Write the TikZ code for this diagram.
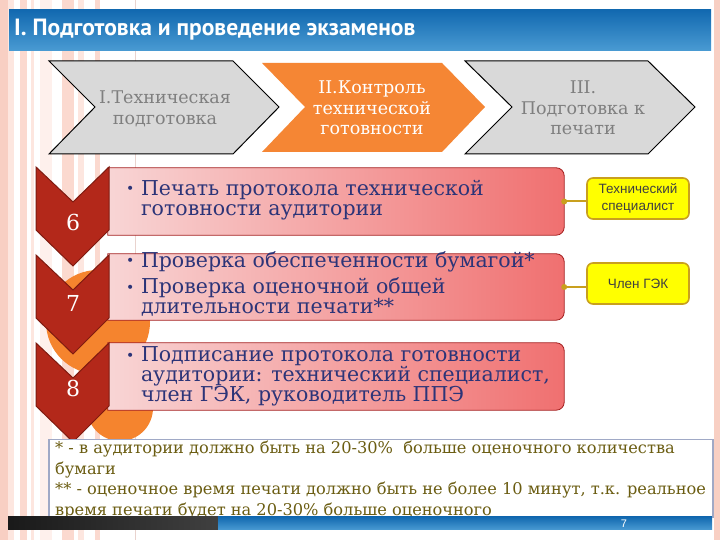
\documentclass[tikz,border=0pt]{standalone}
\usepackage{fontspec}
\setmainfont{DejaVu Serif}
\newfontfamily\titlefont{PT Sans}
\newfontfamily\yelfont{Liberation Sans}
\usetikzlibrary{calc}
\definecolor{chevgray}{HTML}{D9D9D9}
\definecolor{chevorange}{HTML}{F58634}
\definecolor{chevred}{HTML}{B3281A}
\definecolor{chevredb}{HTML}{7E1B10}
\definecolor{boxl}{HTML}{F8D5D5}
\definecolor{boxr}{HTML}{F07070}
\definecolor{boxb}{HTML}{A41E1E}
\definecolor{navy}{HTML}{2C3478}
\definecolor{gold}{HTML}{C9A01E}
\definecolor{yel}{HTML}{FFFF00}
\definecolor{olive}{HTML}{6B5D12}
\definecolor{grtext}{HTML}{7F7F7F}
\definecolor{tb1}{HTML}{1269B0}
\definecolor{tb2}{HTML}{4A9BD3}
\definecolor{fnborder}{HTML}{A0A9C6}
\definecolor{sa}{HTML}{F8CFC3}
\definecolor{sb}{HTML}{FDE6DF}
\definecolor{sc}{HTML}{FBD9CF}
\definecolor{sd}{HTML}{FEF0EC}
\definecolor{se}{HTML}{E9D3CE}
\definecolor{circ}{HTML}{F5842E}
\newcommand\bxfont{\fontsize{20.5}{20}\selectfont}
\newcommand\bul{\makebox[15pt][l]{\fontsize{14}{14}\selectfont\raisebox{1.5pt}{•}}}
\newcommand\ind{\hspace*{15pt}}
\newcommand\pinkbox[1]{\shadedraw[left color=boxl,right color=boxr,draw=boxb,line width=0.8pt]
  (#1.south west) -- (#1.north west) -- ([xshift=-8pt]#1.north east)
  arc[start angle=90,end angle=0,radius=8pt] -- ([yshift=8pt]#1.south east)
  arc[start angle=0,end angle=-90,radius=8pt] -- cycle;}
\newcommand\dchev[1]{\filldraw[redchev] (36,#1) -- (73,{#1-35}) -- (109,#1) -- (109,{#1-63}) -- (73,{#1-99}) -- (36,{#1-63}) -- cycle;}
\begin{document}
\begin{tikzpicture}[x=1pt,y=1pt,
  graychev/.style={fill=chevgray,draw=black,line width=1pt,line join=miter},
  redchev/.style={fill=chevred,draw=chevredb,line width=1pt,line join=miter},
  boxnode/.style={minimum width=456pt,inner sep=0pt},
  boxtext/.style={anchor=west,align=left,font=\bxfont,text=navy,inner sep=0pt},
  toptext/.style={align=center,font=\fontsize{17.5}{20.5}\selectfont,inner sep=0pt},
  numst/.style={font=\fontsize{22}{22}\selectfont,text=white,inner sep=0pt},
  yelbox/.style={fill=yel,draw=gold,line width=1.6pt,rounded corners=6pt,minimum width=102pt,minimum height=41pt,align=center,font=\yelfont\fontsize{13.5}{17}\selectfont,text=black!75,inner sep=0pt},
  conn/.style={draw=gold,line width=2pt}]
\useasboundingbox (0,0) rectangle (720,540);
\fill[white] (0,0) rectangle (720,540);
% background stripes
\fill[sa] (0,0) rectangle (8,540);
\fill[sb] (8,0) rectangle (14,540);
\fill[sc] (20,0) rectangle (27,540);
\fill[sb] (31,0) rectangle (34,540);
\fill[sd] (40,0) rectangle (52,540);
\fill[sc] (62,0) rectangle (74,540);
\fill[sb] (78,0) rectangle (84,540);
\fill[sc] (95,0) rectangle (100,540);
\draw[se,line width=1pt] (135,0) -- (135,540);
\fill[sa] (714,0) rectangle (720,540);
% orange circles
\fill[circ] (98,218) circle (52);
\fill[circ] (120,132) circle (33);
% title bar
\shade[top color=tb1,bottom color=tb2] (9,489) rectangle (711,530);
\node[anchor=west,text=white,font=\titlefont\bfseries\fontsize{23.5}{26}\selectfont,inner sep=0pt] (title) at (14,510) {I. Подготовка и проведение экзаменов};
% top chevrons
\filldraw[graychev] (49,479) -- (233,479) -- (279,433) -- (233,386) -- (49,386) -- (95,433) -- cycle;
\fill[chevorange] (262,477) -- (442,477) -- (485,433) -- (442,388) -- (262,388) -- (305,433) -- cycle;
\filldraw[graychev] (465,479) -- (648,479) -- (695,433) -- (648,386) -- (465,386) -- (512,433) -- cycle;
\node[toptext,text=grtext] (s1) at (165,431) {I.Техническая\\подготовка};
\node[toptext,text=white] (s2) at (372,432) {II.Контроль\\технической\\готовности};
\node[toptext,text=grtext] (s3) at (583,432) {III.\\Подготовка к\\печати};
% pink boxes
\node[boxnode,minimum height=67pt] (b1) at (336,338.5) {};
\pinkbox{b1}
\node[boxnode,minimum height=66pt] (b2) at (336,253) {};
\pinkbox{b2}
\node[boxnode,minimum height=67pt] (b3) at (336,163.5) {};
\pinkbox{b3}
\node[boxtext] (t1) at ([xshift=18pt,yshift=1.5pt]b1.west) {\bul Печать протокола технической\\\ind готовности аудитории};
\node[boxtext] (t2) at ([xshift=18pt,yshift=3pt]b2.west) {\bul Проверка обеспеченности бумагой*\\[5pt]\bul Проверка оценочной общей\\\ind длительности печати**};
\node[boxtext] (t3) at ([xshift=18pt,yshift=0pt]b3.west) {\bul Подписание протокола готовности\\\ind аудитории: технический специалист,\\\ind член ГЭК, руководитель ППЭ};
% down chevrons
\dchev{373}
\dchev{285}
\dchev{197}
\node[numst] (n6) at (73,318) {6};
\node[numst] (n7) at (73,237) {7};
\node[numst] (n8) at (73,152) {8};
% yellow boxes
\node[yelbox] (y1) at (638,341.5) {Технический\\специалист};
\node[yelbox] (y2) at (638,256.5) {Член ГЭК};
\draw[conn] (b1.east) -- (b1.east -| y1.west);
\fill[gold] (b1.east) circle (3pt);
\draw[conn] (b2.east) -- (b2.east -| y2.west);
\fill[gold] (b2.east) circle (3pt);
% footnote
\node[draw=fnborder,line width=1.5pt,fill=white,minimum width=664pt,minimum height=78pt,anchor=north west,inner sep=0pt] (fn) at (48,101) {};
\node[anchor=north west,align=left,text=olive,font=\fontsize{16.2}{20.5}\selectfont,inner sep=0pt] (fntext) at (55,99) {* - в аудитории должно быть на 20-30\%\ \ больше оценочного количества\\бумаги\\** - оценочное время печати должно быть не более 10 минут, т.к. реальное\\время печати будет на 20-30\% больше оценочного};
% bottom bar
\shade[left color=black!90,right color=black!75] (8,10) rectangle (218,23);
\shade[top color=tb1,bottom color=tb2] (218,10) rectangle (712,23);
\node[text=white,font=\yelfont\fontsize{11}{11}\selectfont,inner sep=0pt] (pg) at (624,16.5) {7};
\end{tikzpicture}
\end{document}
